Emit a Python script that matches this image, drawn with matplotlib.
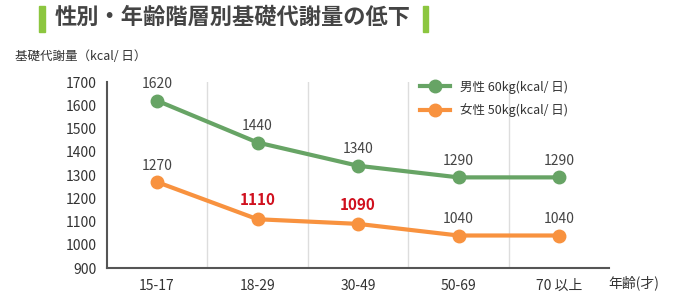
import matplotlib.pyplot as plt

plt.rcParams['font.family'] = ['Noto Sans CJK JP', 'DejaVu Sans']

ages = ['15-17', '18-29', '30-49', '50-69', '70 以上']
male = [1620, 1440, 1340, 1290, 1290]
female = [1270, 1110, 1090, 1040, 1040]
yticks = [900, 1000, 1100, 1200, 1300, 1400, 1500, 1600, 1700]
highlight = [1, 2]  # female points shown in red

green = '#67a465'
orange = '#f8923f'

fig = plt.figure(figsize=(6.8, 2.92), dpi=100)
ax = fig.add_axes([0.157, 0.082, 0.739, 0.637])

x = range(len(ages))
ax.plot(x, male, color=green, lw=3, marker='o', ms=9, label='男性 60kg(kcal/ 日)')
ax.plot(x, female, color=orange, lw=3, marker='o', ms=9, label='女性 50kg(kcal/ 日)')

for i, v in enumerate(male):
    ax.annotate(str(v), (i, v), xytext=(0, 9), textcoords='offset points',
                ha='center', fontsize=10, color='#444444')
for i, v in enumerate(female):
    if i in highlight:
        ax.annotate(str(v), (i, v), xytext=(0, 10), textcoords='offset points',
                    ha='center', fontsize=11, color='#d0101e', fontweight='bold')
    else:
        ax.annotate(str(v), (i, v), xytext=(0, 9), textcoords='offset points',
                    ha='center', fontsize=10, color='#444444')

ax.set_xlim(-0.5, len(ages) - 0.5)
ax.set_ylim(900, 1700)
ax.set_yticks(yticks)
ax.set_xticks(list(x))
ax.set_xticklabels(ages)
for b in range(len(ages) - 1):
    ax.axvline(b + 0.5, color='#dddddd', lw=1, zorder=0)

ax.tick_params(length=0, labelsize=10, colors='#333333', pad=8)
ax.tick_params(axis='y', pad=7)
for s in ['top', 'right']:
    ax.spines[s].set_visible(False)
ax.spines['left'].set_color('#555555')
ax.spines['bottom'].set_color('#555555')
ax.spines['left'].set_linewidth(1.5)
ax.spines['bottom'].set_linewidth(1.5)

leg = ax.legend(loc='upper right', bbox_to_anchor=(0.94, 1.07), frameon=False,
                fontsize=9, handlelength=2.4, labelspacing=0.8)
for t in leg.get_texts():
    t.set_color('#333333')

fig.text(0.022, 0.805, '基礎代謝量（kcal/ 日）', fontsize=9, color='#333333', va='center')
fig.text(0.895, 0.032, '年齢(才)', fontsize=10, color='#333333', va='center')

fig.text(0.081, 0.94, '性別・年齢階層別基礎代謝量の低下', fontsize=16, fontweight='bold',
         color='#444444', va='center')
fig.patches.append(plt.Rectangle((0.058, 0.89), 0.008, 0.09, color='#8cc63f',
                                 transform=fig.transFigure, figure=fig))
fig.patches.append(plt.Rectangle((0.622, 0.89), 0.008, 0.09, color='#8cc63f',
                                 transform=fig.transFigure, figure=fig))

fig.savefig('out.png')
